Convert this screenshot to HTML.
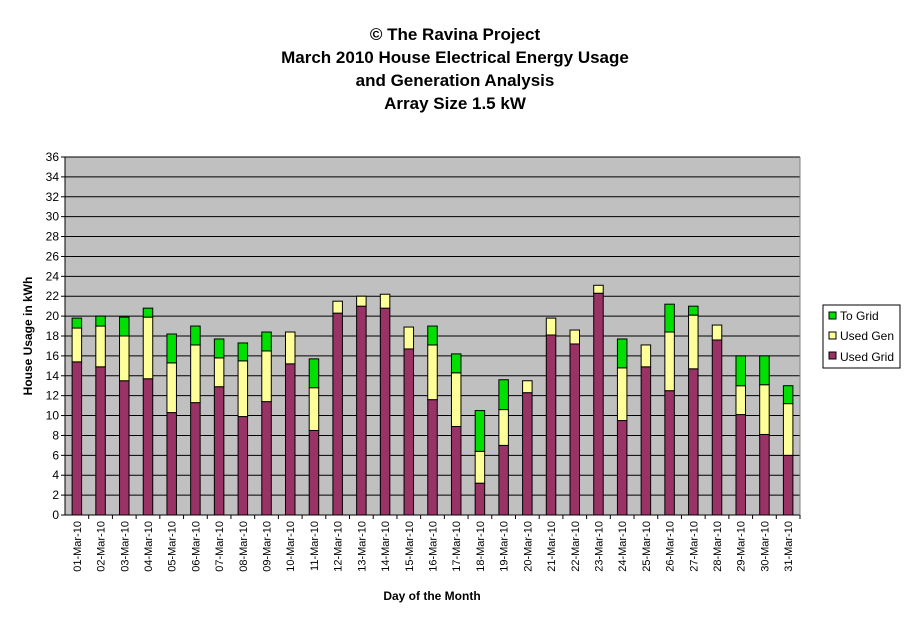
<!DOCTYPE html>
<html><head><meta charset="utf-8"><style>
body{margin:0;background:#fff;font-family:"Liberation Sans",Arial,sans-serif;}
svg text{font-family:"Liberation Sans",Arial,sans-serif;}
</style></head><body>
<svg id="c" width="911" height="623">
<g font-weight="bold" font-size="17" text-anchor="middle">
<text x="455" y="40">© The Ravina Project</text>
<text x="455" y="63">March 2010 House Electrical Energy Usage</text>
<text x="455" y="86">and Generation Analysis</text>
<text x="455" y="109">Array Size 1.5 kW</text>
</g>
<rect x="65" y="157" width="735" height="358" fill="#c0c0c0"/>
<g id="grid"></g><g id="bars"></g><g id="axes"></g>
<text x="32" y="336" font-size="12" font-weight="bold" text-anchor="middle" transform="rotate(-90 32 336)">House Usage in kWh</text>
<text x="432" y="600" font-size="12" font-weight="bold" text-anchor="middle">Day of the Month</text>
<g>
<rect x="823" y="305" width="77" height="63" fill="#fff" stroke="#000"/>
<g><rect x="829" y="312" width="7" height="7" fill="#00e000" stroke="#000"/><text x="840" y="320" font-size="12">To Grid</text></g>
<g><rect x="829" y="332" width="7" height="7" fill="#ffff99" stroke="#000"/><text x="840" y="340" font-size="12">Used Gen</text></g>
<g><rect x="829" y="352" width="7" height="7" fill="#993366" stroke="#000"/><text x="840" y="361" font-size="12">Used Grid</text></g>
</g>
</svg>
<script>
const categories=["01-Mar-10","02-Mar-10","03-Mar-10","04-Mar-10","05-Mar-10","06-Mar-10","07-Mar-10","08-Mar-10","09-Mar-10","10-Mar-10","11-Mar-10","12-Mar-10","13-Mar-10","14-Mar-10","15-Mar-10","16-Mar-10","17-Mar-10","18-Mar-10","19-Mar-10","20-Mar-10","21-Mar-10","22-Mar-10","23-Mar-10","24-Mar-10","25-Mar-10","26-Mar-10","27-Mar-10","28-Mar-10","29-Mar-10","30-Mar-10","31-Mar-10"];
const usedGrid=[15.4,14.9,13.5,13.7,10.3,11.3,12.9,9.9,11.4,15.2,8.5,20.3,21.0,20.8,16.7,11.6,8.9,3.2,7.0,12.3,18.1,17.2,22.3,9.5,14.9,12.5,14.7,17.6,10.1,8.1,6.0];
const usedGen=[3.4,4.1,4.5,6.2,5.0,5.8,2.9,5.6,5.1,3.2,4.3,1.2,1.0,1.4,2.2,5.5,5.4,3.2,3.6,1.2,1.7,1.4,0.8,5.3,2.2,5.9,5.4,1.5,2.9,5.0,5.2];
const toGrid=[1.0,1.0,1.9,0.9,2.9,1.9,1.9,1.8,1.9,0,2.9,0,0,0,0,1.9,1.9,4.1,3.0,0,0,0,0,2.9,0,2.8,0.9,0,3.0,2.9,1.8];
const yTicks=[0,2,4,6,8,10,12,14,16,18,20,22,24,26,28,30,32,34,36];
const NS="http://www.w3.org/2000/svg";
const X0=65,X1=800,Y0=515,Y1=157,YMAX=36;
const y=v=>Y0-(v/YMAX)*(Y0-Y1);
const step=(X1-X0)/categories.length;
const xc=i=>X0+step*(i+0.5);
function mk(t,a,p){const e=document.createElementNS(NS,t);for(const k in a)e.setAttribute(k,a[k]);p.appendChild(e);return e;}
const grid=document.getElementById('grid'),bars=document.getElementById('bars'),axes=document.getElementById('axes');
yTicks.forEach(v=>{
 if(v>0){const l=mk('line',{x1:X0,x2:X1,y1:y(v),y2:y(v),stroke:'#000','stroke-width':1},grid);
 
 }
 mk('line',{x1:X0-4,x2:X0,y1:y(v),y2:y(v),stroke:'#000'},axes);
 const t=mk('text',{x:X0-6,y:y(v)+4,'font-size':12,'text-anchor':'end'},axes);t.textContent=v;
 
 
});
mk('line',{x1:X0,x2:X0,y1:Y1,y2:Y0,stroke:'#000'},axes);
mk('line',{x1:X0,x2:X1,y1:Y0,y2:Y0,stroke:'#000'},axes);
mk('line',{x1:X1,x2:X1,y1:Y1,y2:Y0,stroke:'#808080'},axes);
const bw=9.5;
categories.forEach((c,i)=>{
 const cx=xc(i);
 mk('line',{x1:X0+step*(i+1),x2:X0+step*(i+1),y1:Y0,y2:Y0+4,stroke:'#000'},axes);
 const segs=[[0,usedGrid[i],'#993366','bar-used-grid'],[usedGrid[i],usedGrid[i]+usedGen[i],'#ffff99','bar-used-gen'],[usedGrid[i]+usedGen[i],usedGrid[i]+usedGen[i]+toGrid[i],'#00e000','bar-to-grid']];
 segs.forEach(s=>{if(s[1]-s[0]<=0)return;
  const r=mk('rect',{x:cx-bw/2,y:y(s[1]),width:bw,height:y(s[0])-y(s[1]),fill:s[2],stroke:'#000','stroke-width':1},bars);
  
  
 });
 const t=mk('text',{x:0,y:0,'font-size':11,'text-anchor':'end',transform:`translate(${cx+4},${Y0+6}) rotate(-90)`},axes);
 t.textContent=c;
 
 
});
</script>
</body></html>
